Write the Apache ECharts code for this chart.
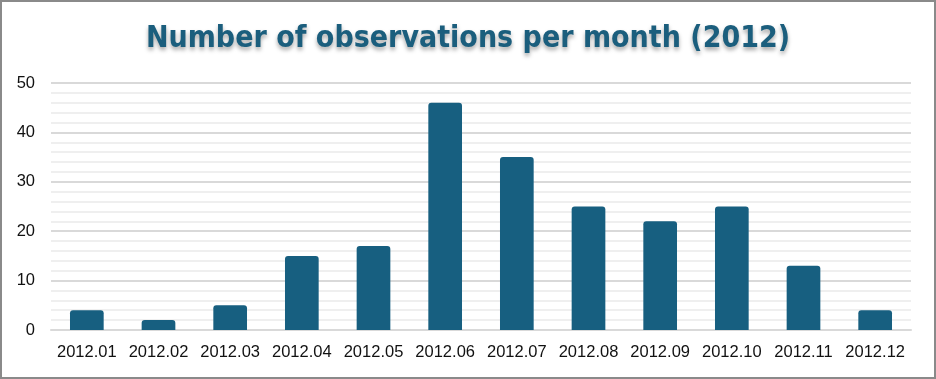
<!DOCTYPE html>
<html>
<head>
<meta charset="utf-8">
<script src="https://cdn.jsdelivr.net/npm/echarts@6/dist/echarts.min.js"></script>
<style>
html,body{margin:0;padding:0;background:#fff;}
#c{width:936px;height:379px;}
</style>
</head>
<body>
<div id="c"></div>
<script>
const categories = ['2012.01','2012.02','2012.03','2012.04','2012.05','2012.06','2012.07','2012.08','2012.09','2012.10','2012.11','2012.12'];
const observations = [4, 2, 5, 15, 17, 46, 35, 25, 22, 25, 13, 4];
const titleText = 'Number of observations per month (2012)';

const chart = echarts.init(document.getElementById('c'), null, {renderer: 'canvas'});
chart.setOption({
  animation: false,
  backgroundColor: '#ffffff',
  title: {
    text: titleText,
    left: 'center',
    top: 19,
    textStyle: {
      fontFamily: 'DejaVu Sans Condensed, sans-serif',
      fontWeight: 'bold',
      fontSize: 30,
      color: '#1b5e7d',
      textShadowColor: 'rgba(0,0,0,0.35)',
      textShadowBlur: 4,
      textShadowOffsetY: 3,
      letterSpacing: 2.2
    }
  },
  graphic: [{
    type: 'rect',
    shape: {x: 1, y: 1, width: 934, height: 377},
    style: {fill: 'none', stroke: '#8a8a8a', lineWidth: 2},
    silent: true
  }],
  grid: {left: 51, right: 25, top: 83, bottom: 49},
  xAxis: {
    type: 'category',
    data: categories,
    axisTick: {show: false},
    axisLine: {show: true, lineStyle: {color: '#d9d9d9', width: 2}},
    axisLabel: {interval: 0, fontFamily: 'Liberation Sans, Arial, sans-serif', fontSize: 16.5, color: '#111', margin: 14}
  },
  yAxis: {
    type: 'value',
    min: 0, max: 50, interval: 10,
    axisLine: {show: false},
    axisTick: {show: false},
    axisLabel: {fontFamily: 'Liberation Sans, Arial, sans-serif', fontSize: 16.5, color: '#111', margin: 16},
    splitLine: {show: true, lineStyle: {color: '#d9d9d9', width: 2}},
    minorTick: {show: false, splitNumber: 5},
    minorSplitLine: {show: true, lineStyle: {color: '#efefef', width: 2}}
  },
  series: [{
    type: 'bar',
    data: observations,
    barWidth: '47%',
    itemStyle: {color: '#175f80', borderRadius: [3, 3, 0, 0]}
  }]
});
</script>
</body>
</html>
